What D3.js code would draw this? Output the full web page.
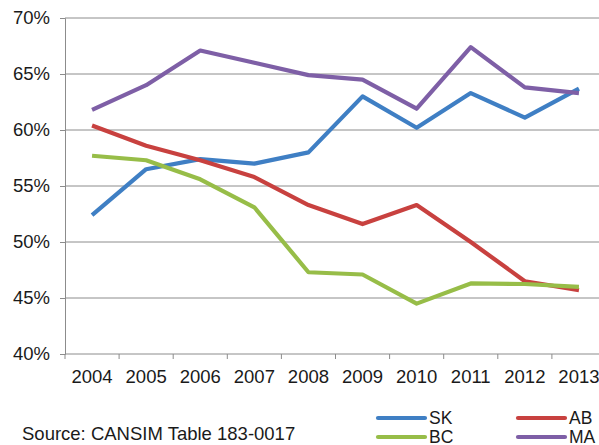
<!DOCTYPE html>
<html>
<head>
<meta charset="utf-8">
<script src="https://cdn.jsdelivr.net/npm/d3@7"></script>
<style>
  html, body { margin: 0; padding: 0; background: #fff; }
  svg { display: block; }
  text { font-family: "Liberation Sans", Arial, sans-serif; fill: #1a1a1a; }
</style>
</head>
<body>
<svg id="chart" width="599" height="445"></svg>
<script>
// Share by province, 2004–2013
const years = ["2004", "2005", "2006", "2007", "2008", "2009", "2010", "2011", "2012", "2013"];
const sk = [52.4, 56.5, 57.4, 57.0, 58.0, 63.0, 60.2, 63.3, 61.1, 63.7];
const ab = [60.4, 58.6, 57.3, 55.8, 53.3, 51.6, 53.3, 50.0, 46.5, 45.7];
const bc = [57.7, 57.3, 55.6, 53.1, 47.3, 47.1, 44.5, 46.3, 46.25, 46.0];
const ma = [61.8, 64.0, 67.1, 66.0, 64.9, 64.5, 61.9, 67.4, 63.8, 63.3];
const yTicks = [40, 45, 50, 55, 60, 65, 70];
const seriesNames = ["SK", "AB", "BC", "MA"];
const seriesColors = ["#3f7fc4", "#c8413f", "#97bd48", "#7e5fa6"];
const seriesValues = [sk, ab, bc, ma];

const FONT = "18.5px";
const LEGEND_FONT = "17.5px";
const svg = d3.select("#chart");
const plotLeft = 65, plotTop = 18, plotBottom = 354, plotRight = 606;

const x = d3.scaleBand().domain(years).range([plotLeft, plotRight]);
const y = d3.scaleLinear().domain([40, 70]).range([plotBottom, plotTop]);

// horizontal gridlines
svg.append("g").selectAll("line").data(yTicks.filter(t => t > 40)).join("line")
  .attr("x1", plotLeft).attr("x2", plotRight)
  .attr("y1", d => y(d)).attr("y2", d => y(d))
  .attr("stroke", "#8c8c8c").attr("stroke-width", 1);

// y axis
const yAxis = svg.append("g").attr("transform", `translate(${plotLeft},0)`)
  .call(d3.axisLeft(y).tickValues(yTicks).tickFormat(d => d + "%").tickSize(5).tickPadding(10));
yAxis.select(".domain").attr("stroke", "#8c8c8c");
yAxis.selectAll(".tick line").attr("stroke", "#8c8c8c");
yAxis.selectAll(".tick text").attr("font-size", FONT).attr("fill", "#1a1a1a")
  .attr("font-family", "Liberation Sans, Arial, sans-serif");

// x axis with ticks between categories
const xAxis = svg.append("g").attr("transform", `translate(0,${plotBottom})`);
xAxis.append("line").attr("x1", plotLeft).attr("x2", plotRight).attr("y1", 0).attr("y2", 0)
  .attr("stroke", "#8c8c8c");
xAxis.selectAll("line.tk").data(years).join("line").attr("class", "tk")
  .attr("x1", d => x(d)).attr("x2", d => x(d)).attr("y1", 0).attr("y2", 5)
  .attr("stroke", "#8c8c8c");
xAxis.selectAll("text").data(years).join("text")
  .attr("x", d => x(d) + x.bandwidth() / 2).attr("y", 29)
  .attr("text-anchor", "middle").attr("font-size", FONT).text(d => d);

// series lines
const line = d3.line()
  .x((d, i) => x(years[i]) + x.bandwidth() / 2)
  .y(d => y(d));
svg.append("g").selectAll("path").data(seriesValues).join("path")
  .attr("d", d => line(d))
  .attr("fill", "none")
  .attr("stroke", (d, i) => seriesColors[i])
  .attr("stroke-width", 4.2)
  .attr("stroke-linejoin", "round");

// legend
const legendPos = [[378, 418], [518, 418], [378, 437], [518, 437]];
const legend = svg.append("g");
seriesNames.forEach((name, i) => {
  const [lx, ly] = legendPos[i];
  legend.append("line").attr("x1", lx).attr("x2", lx + 47).attr("y1", ly).attr("y2", ly)
    .attr("stroke", seriesColors[i]).attr("stroke-width", 4.2).attr("stroke-linecap", "round");
  legend.append("text").attr("x", lx + 51).attr("y", ly + 5.5)
    .attr("font-size", LEGEND_FONT).text(name);
});

// source note
svg.append("text").attr("x", 22).attr("y", 440).attr("font-size", FONT)
  .text("Source: CANSIM Table 183-0017");
</script>
</body>
</html>
